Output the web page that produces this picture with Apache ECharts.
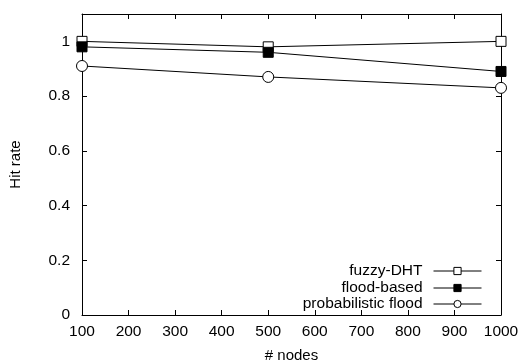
<!DOCTYPE html>
<html>
<head>
<meta charset="utf-8">
<script src="https://cdn.jsdelivr.net/npm/echarts@6/dist/echarts.min.js"></script>
<style>
  html, body { margin: 0; padding: 0; background: #fff; }
  #chart { width: 522px; height: 362px; }
</style>
</head>
<body>
<div id="chart"></div>
<script>
  const nodes = [100, 500, 1000];
  const fuzzyDht = [1.0, 0.98, 1.0];
  const floodBased = [0.98, 0.96, 0.89];
  const probFlood = [0.91, 0.87, 0.83];

  const chart = echarts.init(document.getElementById('chart'));
  const font = 'Liberation Sans, Arial, sans-serif';

  const toPairs = (ys) => nodes.map((x, i) => [x, ys[i]]);

  const axisCommon = {
    axisLine: { show: true, onZero: false, lineStyle: { color: '#000', width: 1 } },
    axisTick: { show: true, inside: true, length: 5, lineStyle: { color: '#000' } },
    splitLine: { show: false },
  };

  const mkSeries = (name, ys, symbol, fill) => ({
    name,
    type: 'line',
    data: toPairs(ys),
    symbol,
    symbolSize: symbol === 'circle' ? 11 : 10,
    showSymbol: true,
    lineStyle: { color: '#000', width: 1 },
    itemStyle: { color: fill, borderColor: '#000', borderWidth: 1 },
    emphasis: { disabled: true },
    z: 3,
  });

  // one legend per entry so the rows line up like gnuplot's key
  const mkLegend = (name, top) => ({
    data: [name],
    right: 40,
    top,
    align: 'right',
    itemWidth: 48,
    itemHeight: 9,
    itemGap: 0,
    padding: 0,
    lineStyle: { width: 1 },
    itemStyle: { borderWidth: 1 },
    textStyle: {
      fontFamily: font, fontSize: 15.5, color: '#000',
      padding: [0, 6, 0, 0],
    },
  });

  const option = {
    animation: false,
    backgroundColor: '#fff',
    grid: { left: 82, right: 21, top: 14, bottom: 47, outerBoundsMode: 'none' },
    legend: [
      mkLegend('fuzzy-DHT', 263),
      mkLegend('flood-based', 280),
      mkLegend('probabilistic flood', 296),
    ],
    xAxis: [
      {
        ...axisCommon,
        type: 'value',
        min: 100,
        max: 1000,
        interval: 100,
        name: '# nodes',
        nameLocation: 'middle',
        nameGap: 33,
        nameTextStyle: { fontFamily: font, fontSize: 15, color: '#000' },
        axisLabel: {
          fontFamily: font, fontSize: 15.5, color: '#000', margin: 9,
          formatter: (v) => String(v),
        },
      },
      {
        ...axisCommon,
        type: 'value',
        position: 'top',
        min: 100,
        max: 1000,
        interval: 100,
        axisLabel: { show: false },
      },
    ],
    yAxis: [
      {
        ...axisCommon,
        type: 'value',
        min: 0,
        max: 1.1,
        interval: 0.2,
        name: 'Hit rate',
        nameLocation: 'middle',
        nameGap: 59,
        nameRotate: 90,
        nameTextStyle: { fontFamily: font, fontSize: 15, color: '#000' },
        axisLabel: {
          fontFamily: font, fontSize: 15.5, color: '#000', margin: 12,
          showMaxLabel: false,
        },
      },
      {
        ...axisCommon,
        type: 'value',
        position: 'right',
        min: 0,
        max: 1.1,
        interval: 0.2,
        axisLabel: { show: false },
      },
    ],
    series: [
      mkSeries('fuzzy-DHT', fuzzyDht, 'rect', '#fff'),
      mkSeries('flood-based', floodBased, 'rect', '#000'),
      mkSeries('probabilistic flood', probFlood, 'circle', '#fff'),
    ],
  };

  chart.setOption(option);
</script>
</body>
</html>
